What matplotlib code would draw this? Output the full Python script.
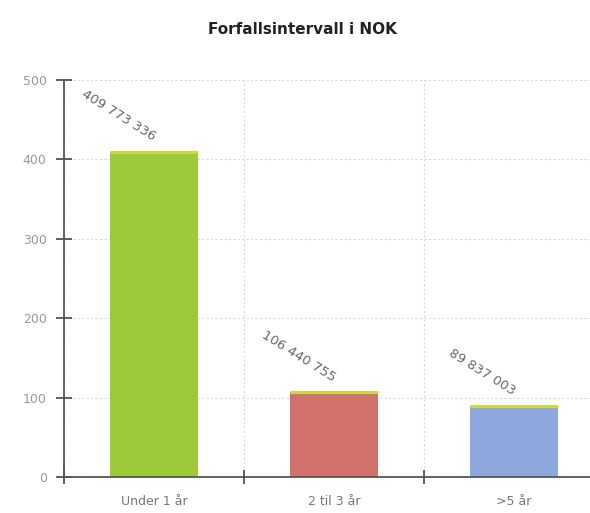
import matplotlib
matplotlib.use("Agg")
import matplotlib.pyplot as plt
from matplotlib.ticker import MultipleLocator

# data (NOK)
categories = ["Under 1 år", "2 til 3 år", ">5 år"]
values_nok = [409773336, 106440755, 89837003]
colors = ["#9dc93b", "#d0716c", "#8ea7dc"]
top_edge = "#c9dc3a"

heights = [v / 1e6 for v in values_nok]
labels = [f"{v:,}".replace(",", " ") for v in values_nok]

fig = plt.figure(figsize=(5.90, 5.13), dpi=100)
fig.patch.set_facecolor("white")
# axes run slightly past the right edge like the cropped original
ax = fig.add_axes([64 / 590, 1 - 477 / 513, 540 / 590, 397 / 513])

x = list(range(len(categories)))
ax.bar(x, heights, width=0.49, color=colors, zorder=2)
ax.hlines(heights, [i - 0.245 for i in x], [i + 0.245 for i in x],
          color=top_edge, lw=2.2, zorder=3)

for i, (h, lab) in enumerate(zip(heights, labels)):
    ax.annotate(lab, (i, h), xytext=(-2, 6), textcoords="offset points",
                rotation=-32, rotation_mode="anchor", ha="right", va="bottom",
                fontsize=9.5, color="#666666")

ax.set_xlim(-0.5, 2.5)
ax.set_ylim(0, 500)
ax.yaxis.set_major_locator(MultipleLocator(100))
ax.set_xticks([-0.5, 0.5, 1.5, 2.5])
ax.set_xticklabels([])
ax.set_xticks(x, minor=True)
ax.set_xticklabels(categories, minor=True)
ax.tick_params(axis="x", which="minor", length=0, pad=13, labelsize=9,
               labelcolor="#777777")
ax.tick_params(axis="x", which="major", direction="inout", length=10,
               color="#444444", width=1.2)
ax.tick_params(axis="y", direction="inout", length=11, color="#444444",
               width=1.2, labelsize=9, labelcolor="#999999", pad=7)

for s in ["top", "right"]:
    ax.spines[s].set_visible(False)
for s in ["left", "bottom"]:
    ax.spines[s].set_color("#555555")
    ax.spines[s].set_linewidth(1.3)

ax.grid(True, which="major", color="#d8d8d8", ls=(0, (2, 2)), lw=0.8, zorder=0)
ax.set_axisbelow(True)

fig.text(302 / 590, 1 - 30 / 513, "Forfallsintervall i NOK", ha="center",
         va="center", fontsize=11, fontweight="bold", color="#222222")

fig.savefig("out.png", dpi=100)
